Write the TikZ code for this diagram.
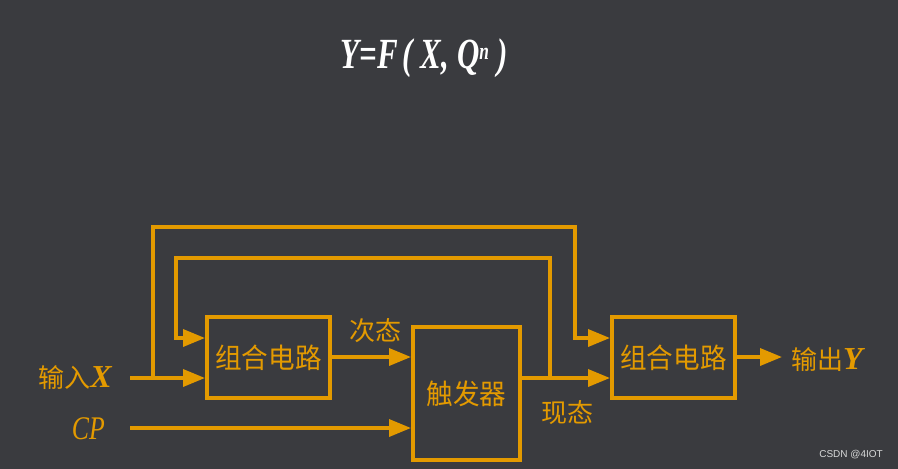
\documentclass[tikz,border=0pt]{standalone}
\usepackage{fontspec}
\setmainfont{Liberation Serif}
\setsansfont{Liberation Sans}
\newfontfamily\cjk{Noto Sans CJK SC}
\usetikzlibrary{arrows.meta}
\definecolor{bg}{HTML}{3A3B3F}
\definecolor{org}{HTML}{E39A00}
\newcommand{\sq}[1]{\scalebox{0.95}[1]{#1}}
\tikzset{
  blk/.style={draw=org, line width=4pt, minimum width=123pt, minimum height=81pt, inner sep=0pt, text=org, font=\cjk\fontsize{28}{28}\selectfont},
  wire/.style={draw=org, line width=3.5pt},
  arr/.style={wire, -{Triangle[length=22pt,width=17pt]}},
  lbl/.style={text=org, inner sep=0pt, font=\cjk\fontsize{26}{26}\selectfont},
}
\begin{document}
\begin{tikzpicture}[x=1pt,y=-1pt]
\fill[bg] (0,0) rectangle (898,469);
\useasboundingbox (0,0) rectangle (898,469);
% title
\node[text=white, font=\bfseries\itshape\fontsize{43}{43}\selectfont, inner sep=0pt] (title) at (424,58) {\scalebox{0.72}[1]{Y=F\,( X, Q\textsuperscript{\fontsize{24}{24}\selectfont n} )}};
% boxes
\node[blk] (c1) at (268.5,357.5) {\sq{组合电路}};
\node[blk, minimum width=107pt, minimum height=133pt] (ff) at (466.5,393.5) {\sq{触发器}};
\node[blk] (c2) at (673.5,357.5) {\sq{组合电路}};
% coordinates
\coordinate (xin) at (130,378);
\coordinate (xj) at (153,378);
\coordinate (otop) at (575,227);
\coordinate (q) at (550,378);
\coordinate (itop) at (176,258);
\coordinate (fb) at (0,338);
\coordinate (mid) at (0,357);
\coordinate (cp) at (130,428);
\coordinate (yout) at (782,357);
% wires
\draw[arr] (xin) -- (c1.west |- xin);
\draw[arr] (xj) |- (otop) |- (c2.west |- fb);
\draw[arr] (q) |- (itop) |- (c1.west |- fb);
\draw[arr] (c1.east |- mid) -- (ff.west |- mid);
\draw[arr] (cp) -- (ff.west |- cp);
\draw[arr] (ff.east |- q) -- (c2.west |- q);
\draw[arr] (c2.east |- mid) -- (yout);
% labels
\node[lbl, anchor=east] (lx) at (112,378) {输入{\rmfamily\bfseries\itshape\fontsize{32}{32}\selectfont X}};
\node[text=org, inner sep=0pt, anchor=east, font=\itshape\fontsize{33}{33}\selectfont] (lcp) at (105,429) {\scalebox{0.78}[1]{CP}};
\node[lbl] (lnext) at (375,331) {次态};
\node[lbl] (lcur) at (567,413) {现态};
\node[lbl, anchor=west] (ly) at (791,360) {输出{\rmfamily\bfseries\itshape\fontsize{32}{32}\selectfont Y}};
\node[text=white!80!bg, font=\sffamily\fontsize{10}{10}\selectfont, anchor=east, inner sep=0pt] (wm) at (883,455) {CSDN @4IOT};
\end{tikzpicture}
\end{document}
